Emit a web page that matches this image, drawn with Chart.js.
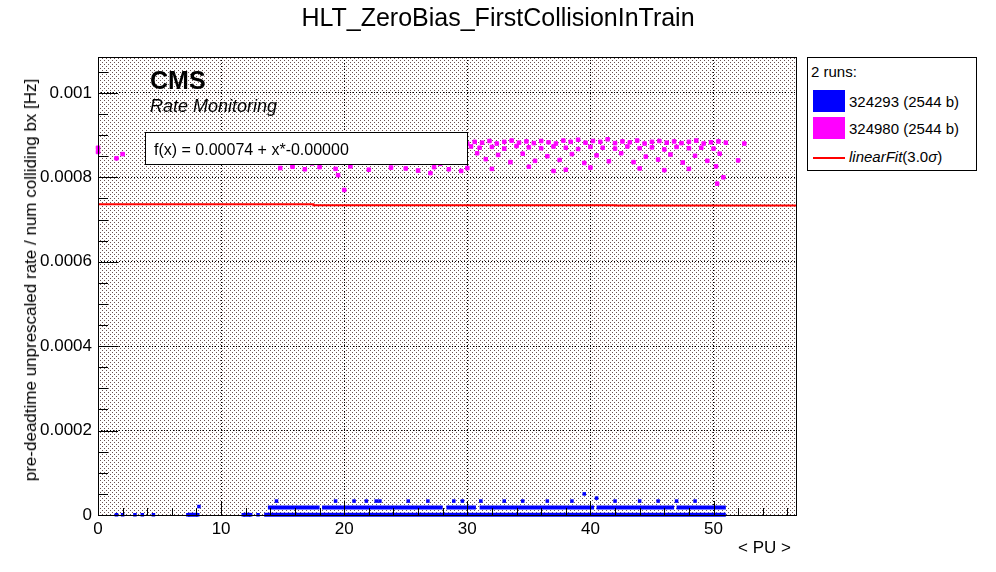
<!DOCTYPE html>
<html><head><meta charset="utf-8">
<script src="https://cdn.jsdelivr.net/npm/chart.js@4/dist/chart.umd.min.js"></script>
<style>
body{margin:0;background:#fff;font-family:"Liberation Sans",Arial,sans-serif;}
#wrap{position:relative;width:996px;height:572px;}
canvas{position:absolute;left:0;top:0;}
.t{position:absolute;white-space:nowrap;color:#000;}
</style></head><body>
<div id="wrap">
<canvas id="c" width="996" height="572"></canvas>
<div class="t" style="left:0;width:996px;text-align:center;top:3px;font-size:25px;">HLT_ZeroBias_FirstCollisionInTrain</div>
<div class="t" style="left:150px;top:66px;font-size:25px;font-weight:bold;">CMS</div>
<div class="t" style="left:150px;top:96px;font-size:18px;font-style:italic;">Rate Monitoring</div>
<div class="t" style="left:145px;top:132px;width:323px;height:33px;background:#fff;border:1px solid #000;font-size:16px;line-height:33px;padding-left:8px;box-sizing:border-box;">f(x) = 0.00074 + x*-0.00000</div>
<div class="t" style="left:10px;top:280px;font-size:17px;transform:translate(-50%,-50%) rotate(-90deg);transform-origin:center;margin-left:21px;">pre-deadtime unprescaled rate / num colliding bx [Hz]</div>
<div class="t" style="left:738px;top:538px;font-size:17px;">&lt; PU &gt;</div>
<div class="t" style="left:807px;top:57px;width:170px;height:114px;background:#fff;border:1px solid #000;box-sizing:border-box;font-size:15px;">
  <div class="t" style="left:3px;top:5px;">2 runs:</div>
  <div class="t" style="left:5px;top:32px;width:32px;height:22px;background:#0000ff;"></div>
  <div class="t" style="left:41px;top:35px;">324293 (2544 b)</div>
  <div class="t" style="left:5px;top:59px;width:32px;height:22px;background:#ff00ff;"></div>
  <div class="t" style="left:41px;top:62px;">324980 (2544 b)</div>
  <div class="t" style="left:5px;top:99px;width:32px;height:2px;background:#ff0000;"></div>
  <div class="t" style="left:41px;top:90px;"><i>linearFit</i>(3.0<i>σ</i>)</div>
</div>
</div>
<script>
const xTicks=[0,10,20,30,40,50];
const yTicks=[0,0.0002,0.0004,0.0006,0.0008,0.001];
const magX=[0,0,1.5,2,4,8,
30,30.6,31.2,31.8,32.4,33,33.6,34.2,34.8,35.4,36,36.6,37.2,37.8,38.4,39,39.6,40.2,40.8,41.4,42,42.6,43.2,43.8,44.4,45,45.6,46.2,46.8,47.4,48,48.6,49.2,49.8,50.4,51,
22,23,24,25,26,27,28,29,30.3,31,32,33,34,35,36,37,38,39,40,41,42,43,44,45,46,47,48,49,50,
15,16,17,18,19,20,21,22.5,23.5,24.5,25.5,26.5,27.5,28.5,29.5,30.8,32.5,34.5,36.5,38.5,40.5,42.5,44.5,46.5,48.5,50.5,
15.2,16.3,17.4,18.5,19.6,20.7,21.8,23,24.2,25.4,26.6,27.8,29,31.5,33.5,35.5,37.5,39.5,41.5,43.5,45.5,47.5,49.5,
14.8,15.8,16.8,18,19.3,20.5,22,23.8,25,26,27.3,28.5,30,32,35,38,40,44,46,48,50.2,
19.5,20,27,29.5,37,50.3,50.8,52,52.5];
const magY=[0.000870,0.000860,0.000845,0.000855,0.000865,0.000870,
0.000880,0.000884,0.000882,0.000886,0.000880,0.000884,0.000887,0.000882,0.000885,0.000881,0.000886,0.000883,0.000880,0.000887,0.000884,0.000889,0.000882,0.000886,0.000884,0.000890,0.000881,0.000885,0.000883,0.000887,0.000880,0.000884,0.000886,0.000882,0.000885,0.000881,0.000884,0.000887,0.000880,0.000883,0.000885,0.000882,
0.000868,0.000872,0.000866,0.000870,0.000874,0.000867,0.000871,0.000869,0.000873,0.000870,0.000872,0.000868,0.000874,0.000871,0.000869,0.000873,0.000870,0.000867,0.000872,0.000870,0.000868,0.000873,0.000869,0.000871,0.000866,0.000872,0.000869,0.000870,0.000868,
0.000850,0.000855,0.000858,0.000852,0.000856,0.000854,0.000859,0.000853,0.000857,0.000851,0.000856,0.000854,0.000858,0.000852,0.000855,0.000857,0.000853,0.000856,0.000850,0.000855,0.000852,0.000857,0.000849,0.000854,0.000851,0.000856,
0.000836,0.000840,0.000833,0.000839,0.000842,0.000835,0.000838,0.000841,0.000834,0.000837,0.000840,0.000832,0.000838,0.000843,0.000836,0.000839,0.000841,0.000834,0.000838,0.000836,0.000842,0.000835,0.000839,
0.000822,0.000825,0.000819,0.000824,0.000820,0.000826,0.000818,0.000823,0.000821,0.000816,0.000824,0.000819,0.000822,0.000820,0.000825,0.000818,0.000823,0.000821,0.000817,0.000820,0.000826,
0.000805,0.000770,0.000810,0.000815,0.000815,0.000785,0.000800,0.000840,0.000880];
const blueLeftX=[1.5,2,3,3.6,4.5,7.3,8.1,11.8,12.4,13];
const blueRow0=[[13.5,0.0000005],[51,0.0000005]];
const blueRow1=[[13.8,0.000018],[18,0.000018],null,[18.2,0.000018],[28,0.000018],null,[28.3,0.000018],[30.7,0.000018],null,[31,0.000018],[40.3,0.000018],null,[40.5,0.000018],[46.8,0.000018],null,[47,0.000018],[51,0.000018]];
const blueLeftSeg=[[7.3,0.0000005],[8.1,0.0000005],null,[11.8,0.0000005],[12.4,0.0000005]];
const blueScatX=[8.2,14.5,19.3,20.8,21.8,22.6,22.9,25.2,26.8,28.9,29.6,31.1,33,34.5,36.5,38.5,39.5,40.5,42,44,45.5,47,48.5];
const blueScatY=[0.00002,0.000033,0.000033,0.000033,0.000033,0.000033,0.000033,0.000033,0.000033,0.000033,0.000033,0.000033,0.000033,0.000033,0.000033,0.000033,0.00005,0.00004,0.000033,0.000033,0.000033,0.000033,0.000033];
const fitX=[0,17.5,42,56.7];
const fitY=[0.000737,0.000736,0.000734,0.000733];

const pc=document.createElement('canvas');pc.width=4;pc.height=4;
const p=pc.getContext('2d');p.fillStyle='#fff';p.fillRect(0,0,4,4);p.fillStyle='#6a5050';p.fillRect(0,0,1,1);p.fillRect(2,2,1,1);
const ctx0=document.getElementById('c').getContext('2d');
const pattern=ctx0.createPattern(pc,'repeat');

const bg={id:'bg',beforeDraw(ch){const a=ch.chartArea,c=ch.ctx;c.save();c.fillStyle=pattern;c.fillRect(a.left,a.top,a.right-a.left,a.bottom-a.top);c.restore();},
afterDraw(ch){const a=ch.chartArea,c=ch.ctx,xs=ch.scales.x,ys=ch.scales.y;c.save();c.strokeStyle='#000';c.lineWidth=1;
c.strokeRect(a.left+0.5,a.top+0.5,a.right-a.left,a.bottom-a.top);
c.beginPath();
for(let v=0;v<=56;v+=2){const x=Math.round(xs.getPixelForValue(v))+0.5;const L=(v%10===0)?14:7;c.moveTo(x,a.bottom);c.lineTo(x,a.bottom-L);}
for(let i=0;i<=21;i++){const v=i*0.00005;const y=Math.round(ys.getPixelForValue(v))+0.5;if(y<a.top)continue;const L=(i%4===0)?20:10;c.moveTo(a.left,y);c.lineTo(a.left+L,y);}
c.stroke();c.restore();}};

const pts=(xs,ys)=>xs.map((x,i)=>({x,y:ys[i]}));
const toPts=a=>a.map(q=>q?{x:q[0],y:q[1]}:{x:NaN,y:NaN});
new Chart(ctx0,{type:'scatter',
data:{datasets:[
{data:pts(fitX,fitY),showLine:true,stepped:'after',borderColor:'#ff0000',borderWidth:2,pointRadius:0,clip:0},
{data:toPts(blueRow0),showLine:true,borderColor:'#0000ff',borderWidth:4,pointRadius:0},
{data:toPts(blueRow1),showLine:true,spanGaps:false,borderColor:'#0000ff',borderWidth:4,pointRadius:0},
{data:toPts(blueLeftSeg),showLine:true,spanGaps:false,borderColor:'#0000ff',borderWidth:4,pointRadius:0},
{data:pts(blueLeftX,blueLeftX.map(()=>0.0000005)),pointStyle:'rect',pointRadius:2.5,backgroundColor:'#0000ff',borderWidth:0},
{data:pts(blueScatX,blueScatY),pointStyle:'rect',pointRadius:2.5,backgroundColor:'#0000ff',borderWidth:0},
{data:pts(magX,magY),pointStyle:'rect',pointRadius:2.5,backgroundColor:'#ff00ff',borderColor:'#ff00ff',borderWidth:1}
]},
options:{responsive:false,animation:false,clip:false,
layout:{padding:{left:0,top:57,right:200,bottom:0}},
plugins:{legend:{display:false},tooltip:{enabled:false}},
scales:{
x:{type:'linear',min:0,max:56.7,afterFit(s){s.height=57;},afterBuildTicks(s){s.ticks=xTicks.map(v=>({value:v}));},
 grid:{color:'#000',lineWidth:1,drawTicks:false},border:{display:false,dash:[1,2]},
 ticks:{color:'#000',font:{size:17,family:'Liberation Sans'},padding:4,maxRotation:0}},
y:{type:'linear',min:0,max:0.001085,afterFit(s){s.width=98;},afterBuildTicks(s){s.ticks=yTicks.map(v=>({value:v}));},
 grid:{color:'#000',lineWidth:1,drawTicks:false},border:{display:false,dash:[1,2]},
 ticks:{color:'#000',font:{size:17,family:'Liberation Sans'},padding:6,callback:v=>v===0?'0':(+v.toFixed(4)).toString()}}
}},
plugins:[bg]});
</script>
</body></html>
